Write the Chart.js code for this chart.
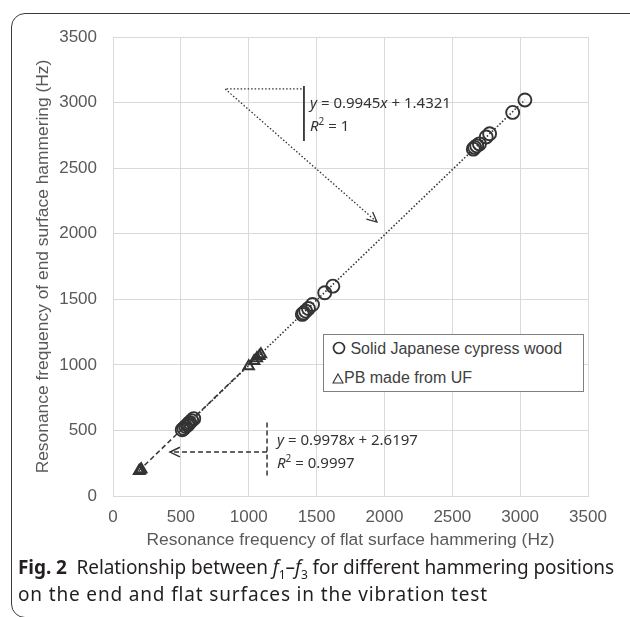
<!DOCTYPE html>
<html>
<head>
<meta charset="utf-8">
<script src="https://cdn.jsdelivr.net/npm/chart.js@4.4.1/dist/chart.umd.min.js"></script>
<style>
  body { margin: 0; background: #fff; }
  #wrap { position: relative; width: 630px; height: 617px; overflow: hidden; }
  #frame {
    position: absolute; left: 11px; top: 13px; width: 700px; height: 603px;
    border: 1.5px solid #3a3a3a; border-radius: 14px;
  }
  #chartBox { position: absolute; left: 0; top: 0; width: 630px; height: 560px; }
  .note { position: absolute; font: 15px "Noto Sans", sans-serif; color: #333; line-height: 23px; white-space: nowrap; }
  .note sup { font-size: 10px; line-height: 0; }
  #legend {
    position: absolute; left: 323px; top: 334px; width: 261px; height: 58px;
    border: 1px solid #808080; background: #fff; box-sizing: border-box;
    font: 16px "Liberation Sans", Arial, sans-serif; color: #404040;
  }
  #legend div { position: absolute; left: 8px; white-space: nowrap; }
  #legend svg { vertical-align: -1px; }
  #caption {
    position: absolute; left: 18px; top: 554px; font: 19px "Noto Sans", sans-serif;
    color: #231f20; line-height: 27px; white-space: nowrap;
  }
  #caption span { display: block; width: max-content; }
  #caption sub { font-size: 12px; line-height: 0; }
</style>
</head>
<body>
<div id="wrap">
  <div id="frame"></div>
  <div id="chartBox"><canvas id="chart" width="630" height="560"></canvas></div>
  <div id="legend">
    <div style="top:5px"><svg width="14" height="14"><circle cx="7" cy="7" r="5.5" fill="none" stroke="#333" stroke-width="1.7"/></svg> Solid Japanese cypress wood</div>
    <div style="top:34px"><svg width="12" height="12"><path d="M6 2 L11 11 L1 11 Z" fill="none" stroke="#333" stroke-width="1.1"/></svg>PB made from UF</div>
  </div>
  <div class="note" style="left:310px; top:91px"><i>y</i> = 0.9945<i>x</i> + 1.4321<br><i>R</i><sup>2</sup> = 1</div>
  <div class="note" style="left:277px; top:428px"><i>y</i> = 0.9978<i>x</i> + 2.6197<br><i>R</i><sup>2</sup> = 0.9997</div>
  <div id="caption">
    <span data-w="596"><b>Fig. 2</b>&nbsp; Relationship between <i>f</i><sub>1</sub>–<i>f</i><sub>3</sub> for different hammering positions</span>
    <span data-w="470">on the end and flat surfaces in the vibration test</span>
  </div>
</div>
<script>
// Solid Japanese cypress wood (flat surface x, end surface y), Hz
const cypressX = [510, 522, 535, 548, 556, 565, 580, 595, 1395, 1405, 1420, 1440, 1470, 1560, 1620, 2655, 2665, 2680, 2700, 2750, 2775, 2945, 3035];
const cypressY = [505, 515, 530, 540, 550, 560, 575, 590, 1385, 1395, 1410, 1430, 1460, 1550, 1600, 2645, 2658, 2670, 2685, 2738, 2762, 2925, 3020];

// PB made from UF
const pbX = [192, 200, 208, 1000, 1040, 1060, 1078, 1090];
const pbY = [190, 196, 204, 990, 1030, 1050, 1068, 1080];

// trendline ends
const cypressFitX = [505, 3035];
const cypressFitY = [504, 3020];
const pbFitX = [190, 1090];
const pbFitY = [192, 1090];

const tickVals = [0, 500, 1000, 1500, 2000, 2500, 3000, 3500];

const toPts = (xs, ys) => xs.map((v, i) => ({ x: v, y: ys[i] }));

// stretch caption lines to the widths seen in the figure
document.querySelectorAll("#caption span").forEach(el => {
  const w = el.getBoundingClientRect().width;
  const n = el.textContent.length;
  el.style.letterSpacing = ((+el.dataset.w - w) / n) + "px";
});

function arrowHead(ctx, x0, y0, x1, y1) {
  const a = Math.atan2(y1 - y0, x1 - x0);
  ctx.setLineDash([]);
  ctx.beginPath();
  ctx.moveTo(x1 - 11 * Math.cos(a - 0.45), y1 - 11 * Math.sin(a - 0.45));
  ctx.lineTo(x1, y1);
  ctx.lineTo(x1 - 11 * Math.cos(a + 0.45), y1 - 11 * Math.sin(a + 0.45));
  ctx.stroke();
}

// callout bars and arrows, anchored in data units
const notes = {
  id: "notes",
  afterDatasetsDraw(chart) {
    const { ctx, scales: { x, y } } = chart;
    ctx.save();
    ctx.strokeStyle = "#333";

    // upper callout (cypress)
    ctx.lineWidth = 1.8;
    ctx.beginPath();
    ctx.moveTo(x.getPixelForValue(1407), y.getPixelForValue(3126));
    ctx.lineTo(x.getPixelForValue(1407), y.getPixelForValue(2707));
    ctx.stroke();
    ctx.lineWidth = 1.3;
    ctx.setLineDash([1.5, 2]);
    const cx = x.getPixelForValue(825), cy = y.getPixelForValue(3105);
    const hx = x.getPixelForValue(1945), hy = y.getPixelForValue(2089);
    ctx.beginPath();
    ctx.moveTo(x.getPixelForValue(1390), cy);
    ctx.lineTo(cx, cy);
    ctx.lineTo(hx, hy);
    ctx.stroke();
    arrowHead(ctx, cx, cy, hx, hy);

    // lower callout (PB)
    ctx.lineWidth = 1.5;
    ctx.setLineDash([5, 3]);
    const bx = x.getPixelForValue(1135);
    ctx.beginPath();
    ctx.moveTo(bx, y.getPixelForValue(560));
    ctx.lineTo(bx, y.getPixelForValue(135));
    ctx.moveTo(bx, y.getPixelForValue(335));
    ctx.lineTo(x.getPixelForValue(420), y.getPixelForValue(335));
    ctx.stroke();
    arrowHead(ctx, bx, y.getPixelForValue(335), x.getPixelForValue(420), y.getPixelForValue(335));
    ctx.restore();
  }
};

const tickFont = { family: "'Liberation Sans', Arial, sans-serif", size: 17 };
const titleFont = { family: "'Liberation Sans', Arial, sans-serif", size: 17.4 };

new Chart(document.getElementById("chart"), {
  type: "scatter",
  data: {
    datasets: [
      {
        label: "PB fit",
        type: "line",
        data: toPts(pbFitX, pbFitY),
        borderColor: "#333",
        borderWidth: 1.5,
        borderDash: [5, 3],
        pointRadius: 0,
        fill: false
      },
      {
        label: "Cypress fit",
        type: "line",
        data: toPts(cypressFitX, cypressFitY),
        borderColor: "#333",
        borderWidth: 1.6,
        borderDash: [1.5, 2],
        pointRadius: 0,
        fill: false
      },
      {
        label: "Solid Japanese cypress wood",
        data: toPts(cypressX, cypressY),
        pointStyle: "circle",
        pointRadius: 6.5,
        borderWidth: 1.9,
        borderColor: "#333",
        backgroundColor: "transparent"
      },
      {
        label: "PB made from UF",
        data: toPts(pbX, pbY),
        pointStyle: "triangle",
        pointRadius: 6,
        borderWidth: 2,
        borderColor: "#333",
        backgroundColor: "transparent"
      }
    ]
  },
  options: {
    responsive: false,
    devicePixelRatio: 1,
    animation: false,
    layout: { padding: { top: 37, right: 42, left: 0, bottom: 0 } },
    plugins: { legend: { display: false }, tooltip: { enabled: false } },
    scales: {
      x: {
        min: 0, max: 3500,
        afterFit: s => { s.height = 64; },
        afterBuildTicks: s => { s.ticks = tickVals.map(v => ({ value: v })); },
        grid: { color: "#d9d9d9", drawTicks: false },
        border: { color: "#d9d9d9" },
        ticks: { color: "#595959", font: tickFont, padding: 11, callback: v => String(v) },
        title: {
          display: true,
          text: "Resonance frequency of flat surface hammering (Hz)",
          color: "#595959",
          font: titleFont,
          padding: { top: 0, bottom: 9 }
        }
      },
      y: {
        min: 0, max: 3500,
        afterFit: s => { s.width = 113; },
        afterBuildTicks: s => { s.ticks = tickVals.map(v => ({ value: v })); },
        grid: { color: "#d9d9d9", drawTicks: false },
        border: { color: "#d9d9d9" },
        ticks: { color: "#595959", font: tickFont, padding: 16, callback: v => String(v) },
        title: {
          display: true,
          text: "Resonance frequency of end surface hammering (Hz)",
          color: "#595959",
          font: titleFont,
          padding: { top: 33, bottom: 0 }
        }
      }
    }
  },
  plugins: [notes]
});
</script>
</body>
</html>
